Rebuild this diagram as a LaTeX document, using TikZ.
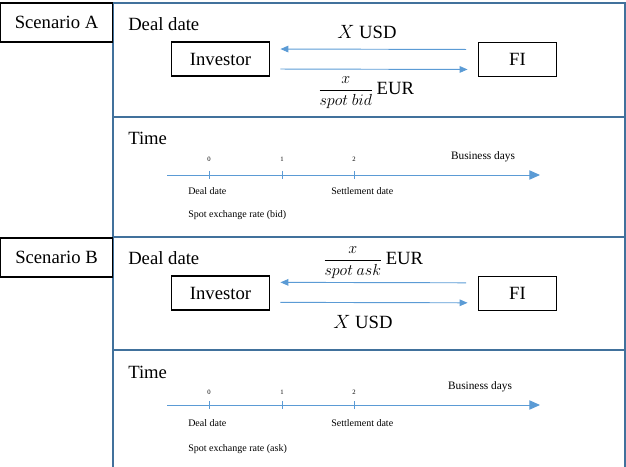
\documentclass[tikz,border=0pt]{standalone}
\usepackage{amsmath}
\usepackage{fontspec}
\setmainfont{Liberation Serif}
\usepackage{tikz}
\usetikzlibrary{arrows.meta}
\definecolor{panelblue}{RGB}{65,113,156}
\definecolor{flowblue}{RGB}{91,155,213}

\begin{document}
\begin{tikzpicture}[x=0.75pt,y=-0.75pt,
    panel/.style={draw=panelblue, line width=1.5pt},
    scenbox/.style={draw=black, line width=1.1pt, minimum width=84pt, minimum height=29pt,
      inner sep=0pt, font=\fontsize{14}{16}\selectfont},
    party/.style={draw=black, line width=0.9pt, minimum height=25.5pt,
      inner sep=0pt, font=\fontsize{14}{16}\selectfont},
    big/.style={font=\fontsize{14}{16}\selectfont, inner sep=0pt},
    flow/.style={draw=flowblue, line width=0.7pt, -{Triangle[length=6pt,width=5pt]}},
    axis/.style={draw=flowblue, line width=0.7pt, -{Triangle[length=8pt,width=7pt]}},
    small/.style={font=\fontsize{7.5}{9}\selectfont, inner sep=0pt},
    ticklab/.style={font=\fontsize{5}{6}\selectfont, inner sep=0pt}]
      \useasboundingbox (0,0) rectangle (626,467);
      % Panels
      \draw[panel] (113,3)   rectangle (625,117);
      \draw[panel] (113,117) rectangle (625,237);
      \draw[panel] (113,237) rectangle (625,350);
      \draw[panel] (113,350) rectangle (625,472);
      % Scenario labels
      \node[scenbox] (scA) at (56.5,22.5)  {Scenario A};
      \node[scenbox] (scB) at (56.5,257.5) {Scenario B};

      % ---- Scenario A : deal date
      \node[big, anchor=west] (dealA) at (128,24) {Deal date};
      \node[party, minimum width=74pt] (invA) at (220.5,59) {Investor};
      \node[party, minimum width=58pt] (fiA)  at (517.5,59.5) {FI};
      \draw[flow, shorten <=9pt, shorten >=7.5pt]
        ([yshift=7.5pt]fiA.west) -- ([yshift=7.5pt]invA.east);
      \draw[flow, shorten <=7.5pt, shorten >=8pt]
        ([yshift=-7.5pt]invA.east) -- ([yshift=-7.5pt]fiA.west);
      \node[big] (usdA) at (367,32) {$X$ USD};
      \node[big] (eurA) at (366,93)
        {{\fontsize{11.5}{12}\selectfont$\dfrac{x}{spot\ bid}$}\,EUR};

      % ---- Scenario A : time line
      \node[big, anchor=west] (timeA) at (128,138) {Time};
      \coordinate (axA0) at (167,175);
      \coordinate (axA1) at (540,175);
      \draw[axis] (axA0) -- (axA1);
      \foreach \t/\xx in {0/209, 1/282, 2/354}
      { \coordinate (tA\t) at (\xx,175);
        \draw[flowblue, line width=0.7pt] ([yshift=3pt]tA\t) -- ([yshift=-3pt]tA\t);
        \node[ticklab] (lA\t) at (\xx,159) {\t}; }
      \node[font=\fontsize{8.5}{10}\selectfont, inner sep=0pt] (bdA) at (483,157) {Business days};
      \node[small, anchor=west] (ddA)   at (188,191) {Deal date};
      \node[small, anchor=west] (setA)  at (331,191) {Settlement date};
      \node[small, anchor=west] (rateA) at (188,215) {Spot exchange rate (bid)};

      % ---- Scenario B : deal date
      \node[big, anchor=west] (dealB) at (128,258) {Deal date};
      \node[party, minimum width=74pt] (invB) at (220.5,293) {Investor};
      \node[party, minimum width=58pt] (fiB)  at (517.5,293.5) {FI};
      \draw[flow, shorten <=9pt, shorten >=7.5pt]
        ([yshift=8pt]fiB.west) -- ([yshift=8pt]invB.east);
      \draw[flow, shorten <=7.5pt, shorten >=8pt]
        ([yshift=-7pt]invB.east) -- ([yshift=-7pt]fiB.west);
      \node[big] (eurB) at (373,263)
        {{\fontsize{11.5}{12}\selectfont$\dfrac{x}{spot\ ask}$}\,EUR};
      \node[big] (usdB) at (363,322) {$X$ USD};

      % ---- Scenario B : time line
      \node[big, anchor=west] (timeB) at (128,372) {Time};
      \coordinate (axB0) at (167,405);
      \coordinate (axB1) at (540,405);
      \draw[axis] (axB0) -- (axB1);
      \foreach \t/\xx in {0/209, 1/282, 2/354}
      { \coordinate (tB\t) at (\xx,405);
        \draw[flowblue, line width=0.7pt] ([yshift=3pt]tB\t) -- ([yshift=-3pt]tB\t);
        \node[ticklab] (lB\t) at (\xx,392) {\t}; }
      \node[font=\fontsize{8.5}{10}\selectfont, inner sep=0pt] (bdB) at (480,387) {Business days};
      \node[small, anchor=west] (ddB)   at (188,423) {Deal date};
      \node[small, anchor=west] (setB)  at (331,423) {Settlement date};
      \node[small, anchor=west] (rateB) at (188,449) {Spot exchange rate (ask)};
    \end{tikzpicture}
\end{document}
